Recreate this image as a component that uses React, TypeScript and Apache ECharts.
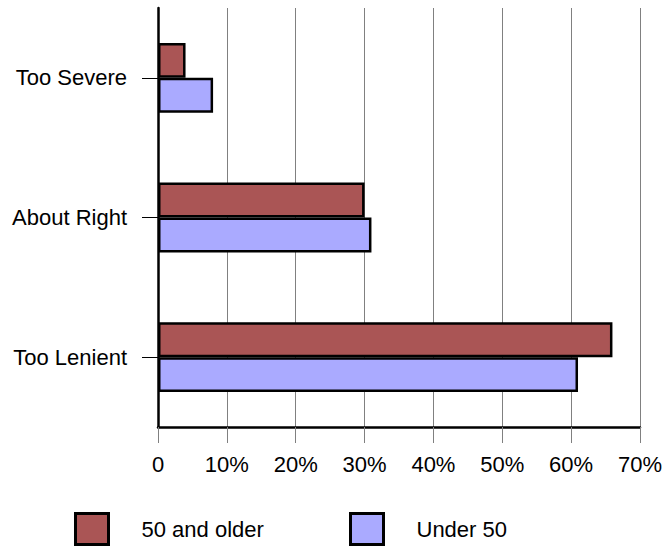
import React, { useEffect, useRef } from "react";
import * as echarts from "echarts";

const categories = ["Too Severe", "About Right", "Too Lenient"];
const olderValues = [4, 30, 66];
const underValues = [8, 31, 61];
const seriesNames = ["50 and older", "Under 50"];
const xTicks = [0, 10, 20, 30, 40, 50, 60, 70];

const FONT = "'Liberation Sans', Arial, sans-serif";
const FS = 22;

export default function App() {
  const ref = useRef<HTMLDivElement>(null);
  useEffect(() => {
    if (!ref.current) return;
    const chart = echarts.init(ref.current, null, { renderer: "svg" });
    const legendBase = {
      top: 512,
      padding: 0,
      icon: "rect",
      itemWidth: 33,
      itemHeight: 31,
      itemStyle: { borderColor: "#000", borderWidth: 3 },
      textStyle: { fontSize: FS, color: "#000", fontFamily: FONT, padding: [0, 0, 0, 28] },
    };
    chart.setOption({
      animation: false,
      backgroundColor: "#ffffff",
      textStyle: { fontFamily: FONT },
      grid: { left: 158, right: 23, top: 8, bottom: 122, containLabel: false },
      legend: [
        { ...legendBase, data: [seriesNames[0]], left: 74 },
        { ...legendBase, data: [seriesNames[1]], left: 349 },
      ],
      xAxis: {
        type: "value",
        min: xTicks[0],
        max: xTicks[xTicks.length - 1],
        interval: 10,
        axisLine: { show: true, lineStyle: { color: "#000", width: 2.5 } },
        axisTick: { show: true, length: 16, lineStyle: { color: "#808080", width: 1 } },
        splitLine: { show: true, lineStyle: { color: "#808080", width: 1 } },
        axisLabel: {
          fontSize: FS,
          color: "#000",
          fontFamily: FONT,
          margin: 26,
          formatter: (v: number) => (v === 0 ? "0" : v + "%"),
        },
      },
      yAxis: {
        type: "category",
        data: categories,
        inverse: true,
        axisLine: { show: true, lineStyle: { color: "#000", width: 2.5 } },
        axisTick: { show: true, alignWithLabel: true, length: 16, lineStyle: { color: "#000", width: 1 } },
        axisLabel: { fontSize: FS, color: "#000", fontFamily: FONT, margin: 31 },
      },
      series: [
        {
          name: seriesNames[0],
          type: "bar",
          data: olderValues,
          barGap: "0%",
          barCategoryGap: "50%",
          itemStyle: { color: "#AA5555", borderColor: "#000", borderWidth: 2.5 },
        },
        {
          name: seriesNames[1],
          type: "bar",
          data: underValues,
          barGap: "0%",
          barCategoryGap: "50%",
          itemStyle: { color: "#AAAAFF", borderColor: "#000", borderWidth: 2.5 },
        },
      ],
    });
    return () => chart.dispose();
  }, []);
  return <div ref={ref} style={{ width: 665, height: 549, position: "absolute", left: 0, top: 0 }} />;
}
